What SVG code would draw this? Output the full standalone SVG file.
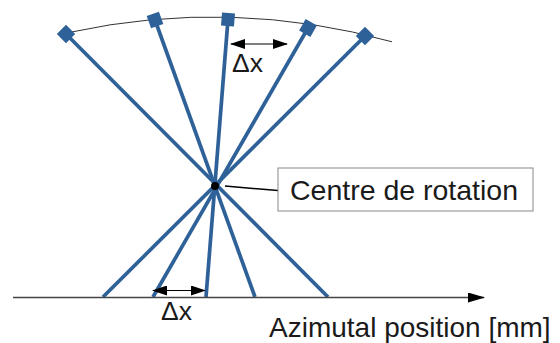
<svg xmlns="http://www.w3.org/2000/svg" width="560" height="343" viewBox="0 0 560 343">
<defs>
<style>
.ray{stroke:#2f6199;stroke-width:3.7;fill:none;stroke-linecap:butt}
.det{fill:#2f6199}
.lbl{font-family:"Liberation Sans",Arial,sans-serif;fill:#1a1a1a}
</style>
<marker id="ah" viewBox="0 0 15 10" refX="14" refY="5" markerWidth="15" markerHeight="10" markerUnits="userSpaceOnUse" orient="auto-start-reverse">
<path d="M0,0 L15,5 L0,10 Z" fill="#000"/>
</marker>
<marker id="axh" viewBox="0 0 17 10" refX="16" refY="5" markerWidth="17" markerHeight="10" markerUnits="userSpaceOnUse" orient="auto">
<path d="M0,0 L17,5 L0,10 Z" fill="#000"/>
</marker>
<rect id="sq" x="-6.5" y="-6.5" width="13" height="13"/>
</defs>
<rect width="560" height="343" fill="#fff"/>
<g id="arc">
<path d="M70 32.3 A666 666 0 0 1 392 41.8" fill="none" stroke="#333" stroke-width="1"/>
</g>
<g id="connectors">
<line class="ray" x1="66" y1="34" x2="328" y2="297"/>
<line class="ray" x1="155" y1="20" x2="255" y2="297"/>
<line class="ray" x1="228" y1="19.5" x2="206" y2="297"/>
<line class="ray" x1="308" y1="28" x2="153" y2="297"/>
<line class="ray" x1="365" y1="36" x2="103" y2="297"/>
<line x1="13" y1="297.5" x2="484" y2="297.5" stroke="#444" stroke-width="1.3" marker-end="url(#axh)"/>
<line x1="231" y1="44" x2="287" y2="44" stroke="#000" stroke-width="1.2" marker-start="url(#ah)" marker-end="url(#ah)"/>
<line x1="153" y1="290.5" x2="205" y2="290.5" stroke="#000" stroke-width="1.2" marker-start="url(#ah)" marker-end="url(#ah)"/>
<line x1="225" y1="186" x2="278" y2="190.5" stroke="#000" stroke-width="1.5"/>
</g>
<g id="detectors" class="det">
<use href="#sq" transform="translate(66 34) rotate(45)"/>
<use href="#sq" transform="translate(155 20) rotate(-19.7)"/>
<use href="#sq" transform="translate(228 19.5) rotate(4.8)"/>
<use href="#sq" transform="translate(308 28) rotate(30)"/>
<use href="#sq" transform="translate(365 36) rotate(45)"/>
</g>
<g id="centre">
<circle cx="215" cy="186" r="4" fill="#000"/>
</g>
<g id="centre-label">
<rect x="278" y="168" width="255" height="43" fill="#fff" stroke="#888" stroke-width="1"/>
<text class="lbl" x="290" y="200" font-size="28" textLength="228" lengthAdjust="spacingAndGlyphs">Centre de rotation</text>
</g>
<g id="dx-top">
<text class="lbl" x="232" y="72" font-size="25" textLength="31" lengthAdjust="spacingAndGlyphs">Δx</text>
</g>
<g id="dx-bottom">
<text class="lbl" x="161" y="320" font-size="25" textLength="31" lengthAdjust="spacingAndGlyphs">Δx</text>
</g>
<g id="axis-label">
<text class="lbl" x="269" y="337" font-size="28">Azimutal position [mm]</text>
</g>
</svg>
